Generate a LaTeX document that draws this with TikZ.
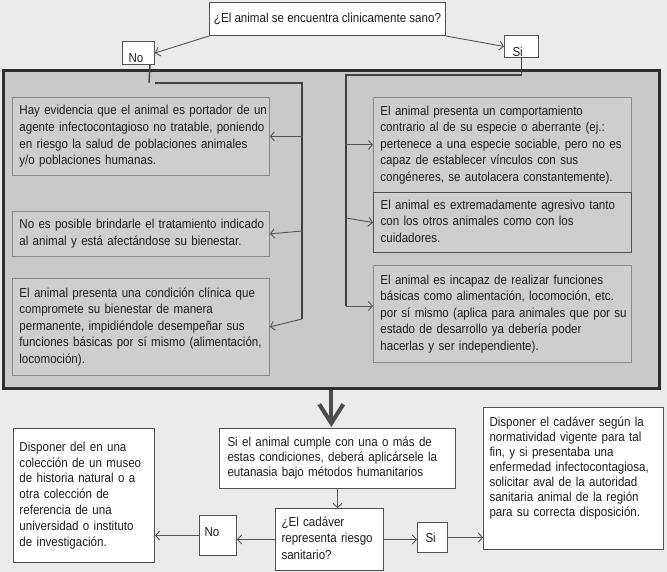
\documentclass[tikz,border=0pt]{standalone}
\usepackage{fontspec}
\setmainfont{Liberation Sans}[FakeStretch=0.89]
\usetikzlibrary{arrows.meta}
\setlength{\parindent}{0pt}
\newcommand{\lns}[1]{\begin{tabular}{@{}l@{}}#1\end{tabular}}
\definecolor{bgc}{HTML}{EBEBEB}
\definecolor{panelfill}{HTML}{C9C9C9}
\definecolor{panelline}{HTML}{2E2E2E}
\definecolor{innerfill}{HTML}{CECECE}
\definecolor{innerline}{HTML}{8A8A8A}
\definecolor{wline}{HTML}{505050}
\definecolor{arrc}{HTML}{555555}
\definecolor{brkc}{HTML}{404040}
\definecolor{txtc}{HTML}{1E1E1E}
\tikzset{
  pbox/.style={draw=innerline, fill=innerfill, text=txtc, line width=0.8pt, inner xsep=7pt, inner ysep=0pt,
    anchor=north west, align=left, font=\fontsize{13}{16.6}\selectfont},
  wbox/.style={draw=wline, fill=white, text=txtc, line width=1pt, inner xsep=6pt, inner ysep=0pt,
    anchor=north west, align=left, font=\fontsize{13}{15.6}\selectfont},
  arr/.style={draw=arrc, line width=0.9pt, -{Straight Barb[length=4pt,width=9pt]}},
  brk/.style={draw=brkc, line width=1.4pt},
  bigarrow/.style={draw=arrc!90!black, line width=4pt, -{Straight Barb[length=19pt,width=24pt,line width=4pt]}},
}
\begin{document}
\begin{tikzpicture}[x=1pt,y=-1pt]
\useasboundingbox (0,0) rectangle (667,572);
\fill[bgc] (0,0) rectangle (667,572);

% panel
\node[draw=panelline, fill=panelfill, line width=2.6pt, anchor=north west, minimum width=656pt, minimum height=318pt, inner sep=0pt] (panel) at (2,69) {};

% top question
\node[wbox, align=center, inner xsep=4pt, minimum width=236pt, minimum height=33pt] (top) at (209,2) {¿El animal se encuentra clinicamente sano?};
\node[wbox, minimum width=32pt, minimum height=23pt, text width=20pt, inner xsep=6pt, text height=19pt, text depth=0pt] (noA) at (122,41) {No};
\node[wbox, minimum width=34pt, minimum height=22pt, text width=18pt, inner xsep=8pt, text height=20pt, text depth=0pt] (siA) at (504,35) {Si};

% left boxes
\node[pbox, minimum width=257pt, minimum height=78pt, text width=243pt] (L1) at (12,97) {\lns{Hay evidencia que el animal es portador de un\\ agente infectocontagioso no tratable, poniendo\\ en riesgo la salud de poblaciones animales\\ y/o poblaciones humanas.}};
\node[pbox, minimum width=257pt, minimum height=45pt, text width=243pt] (L2) at (12,211) {\lns{No es posible brindarle el tratamiento indicado\\ al animal y está afectándose su bienestar.}};
\node[pbox, minimum width=257pt, minimum height=97pt, text width=243pt] (L3) at (12,278) {\lns{El animal presenta una condición clínica que\\ compromete su bienestar de manera\\ permanente, impidiéndole desempeñar sus\\ funciones básicas por sí mismo (alimentación,\\ locomoción).}};

% right boxes
\node[pbox, minimum width=258pt, minimum height=95pt, text width=244pt] (R1) at (373,97) {\lns{El animal presenta un comportamiento\\ contrario al de su especie o aberrante (ej.:\\ pertenece a una especie sociable, pero no es\\ capaz de establecer vínculos con sus\\ congéneres, se autolacera constantemente).}};
\node[pbox, draw=wline, line width=1.1pt, minimum width=258pt, minimum height=60pt, text width=244pt] (R2) at (373,192) {\lns{El animal es extremadamente agresivo tanto\\ con los otros animales como con los\\ cuidadores.}};
\node[pbox, minimum width=258pt, minimum height=97pt, text width=244pt] (R3) at (373,265) {\lns{El animal es incapaz de realizar funciones\\ básicas como alimentación, locomoción, etc.\\ por sí mismo (aplica para animales que por su\\ estado de desarrollo ya debería poder\\ hacerlas y ser independiente).}};

% bottom
\node[wbox, font=\fontsize{13}{14.6}\selectfont, minimum width=236pt, minimum height=60pt, text width=220pt, inner xsep=8pt] (ctr) at (219,428) {\lns{Si el animal cumple con una o más de\\ estas condiciones, deberá aplicársele la\\ eutanasia bajo métodos humanitarios}};
\node[wbox, font=\fontsize{13}{16.5}\selectfont, minimum width=108pt, minimum height=62pt, text width=96pt] (cad) at (275,508) {\lns{¿El cadáver\\ representa riesgo\\ sanitario?}};
\node[wbox, minimum width=37pt, minimum height=40pt, text width=27pt, inner xsep=5pt, text height=9.3pt, text depth=7.3pt] (noB) at (199,515) {No};
\node[wbox, minimum width=30pt, minimum height=30pt, text width=14pt, inner xsep=8pt, text height=10pt, text depth=0pt] (siB) at (417,522) {Si};
\node[wbox, font=\fontsize{13}{15.8}\selectfont, minimum width=141pt, minimum height=134pt, text width=129pt] (LB) at (13,428) {\lns{Disponer del en una\\ colección de un museo\\ de historia natural o a\\ otra colección de\\ referencia de una\\ universidad o instituto\\ de investigación.}};
\node[wbox, font=\fontsize{13}{15}\selectfont, minimum width=180pt, minimum height=142pt, text width=168pt] (RB) at (483,407) {\lns{Disponer el cadáver según la\\ normatividad vigente para tal\\ fin, y si presentaba una\\ enfermedad infectocontagiosa,\\ solicitar aval de la autoridad\\ sanitaria animal de la región\\ para su correcta disposición.\\[20pt]}};

% coordinates for brackets
\coordinate (nA) at (149,83);
\coordinate (nB) at (155,83);
\coordinate (nC) at (302,83);
\coordinate (n2) at (302,231);
\coordinate (nD) at (302,319);
\coordinate (sA) at (346,75);
\coordinate (s2) at (346,218);
\coordinate (sD) at (346,306);

% top arrows
\draw[arr] (top.south west) -- (noA.east);
\draw[arr] (top.south east) -- (siA.west);

% left bracket
\draw[brk] ([xshift=-5pt]noA.south east) -- (nA);
\draw[brk] (nB) -- (nC) -- (nD);
\draw[arr] (L1.east -| nC) -- (L1.east);
\draw[arr] (n2) -- (L2.east);
\draw[arr] (nD) -- (L3.east);

% right bracket
\draw[brk] (siA.south) |- (sA) -- (sD);
\draw[arr] (R1.west -| sA) -- (R1.west);
\draw[arr] (s2) -- (R2.west);
\draw[arr] (sD) -- (sD -| R3.west);

% bottom flow
\draw[bigarrow] (panel.south) -- ([yshift=1pt]panel.south |- ctr.north);
\draw[arr] (ctr.south) -- (ctr.south |- cad.north);
\draw[arr] (cad.west) -- (cad.west -| noB.east);
\draw[arr] (noB.west) -- (noB.west -| LB.east);
\draw[arr] (cad.east) -- (cad.east -| siB.west);
\draw[arr] (siB.east) -- (siB.east -| RB.west);
\end{tikzpicture}
\end{document}
